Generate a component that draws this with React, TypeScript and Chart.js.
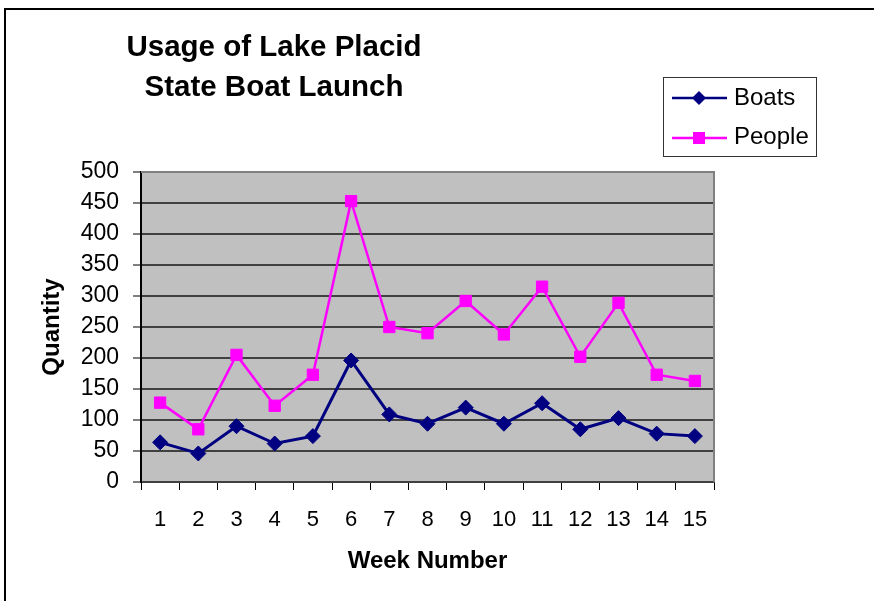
import React, { useEffect, useRef } from "react";
import { Chart, registerables } from "chart.js";

Chart.register(...registerables);

// Weekly usage counts for the boat launch
const weeks = ["1", "2", "3", "4", "5", "6", "7", "8", "9", "10", "11", "12", "13", "14", "15"];
const boats = [64, 46, 90, 62, 74, 196, 109, 94, 120, 94, 127, 85, 103, 78, 74];
const people = [128, 85, 205, 123, 173, 453, 250, 240, 292, 238, 315, 202, 289, 173, 163];

const titleLines = ["Usage of Lake Placid", "State Boat Launch"];
const seriesNames = ["Boats", "People"];
const yMin = 0;
const yMax = 500;
const yStep = 50;

const FONT = "'Liberation Sans', Arial, sans-serif";
const NAVY = "#000080";
const MAGENTA = "#ff00ff";

const W = 874;
const H = 601;

// Plot background, plot frame, heading and key
const decorations = {
  id: "decorations",
  beforeDraw(chart: any) {
    const { ctx, chartArea: a } = chart;
    ctx.save();
    ctx.fillStyle = "#ffffff";
    ctx.fillRect(0, 0, W, H);
    // outer frame
    ctx.fillStyle = "#000000";
    ctx.fillRect(4, 8, 2, H - 8);
    ctx.fillRect(4, 8, W - 4, 2);
    // plot area
    ctx.fillStyle = "#c0c0c0";
    ctx.fillRect(a.left, a.top, a.right - a.left, a.bottom - a.top);
    ctx.restore();
  },
  beforeDatasetsDraw(chart: any) {
    const { ctx, chartArea: a } = chart;
    ctx.save();
    ctx.strokeStyle = "#808080";
    ctx.lineWidth = 2;
    ctx.beginPath();
    ctx.moveTo(a.left, a.top);
    ctx.lineTo(a.right, a.top);
    ctx.lineTo(a.right, a.bottom);
    ctx.stroke();
    ctx.restore();
  },
  afterDraw(chart: any) {
    const { ctx } = chart;
    ctx.save();
    // heading
    ctx.fillStyle = "#000000";
    ctx.font = `bold 29.5px ${FONT}`;
    ctx.textAlign = "center";
    ctx.textBaseline = "alphabetic";
    ctx.fillText(titleLines[0], 274, 56);
    ctx.fillText(titleLines[1], 274, 96);

    // key
    ctx.fillStyle = "#ffffff";
    ctx.fillRect(663, 77, 154, 80);
    ctx.strokeStyle = "#333333";
    ctx.lineWidth = 1;
    ctx.strokeRect(663.5, 77.5, 153, 79);

    const rows = [
      { y: 98, color: NAVY, width: 2.5, shape: "diamond", label: seriesNames[0], base: 105 },
      { y: 138, color: MAGENTA, width: 2.5, shape: "square", label: seriesNames[1], base: 144 },
    ];
    for (const r of rows) {
      ctx.strokeStyle = r.color;
      ctx.lineWidth = r.width;
      ctx.beginPath();
      ctx.moveTo(672, r.y);
      ctx.lineTo(727, r.y);
      ctx.stroke();
      ctx.fillStyle = r.color;
      ctx.beginPath();
      const cx = 699;
      if (r.shape === "diamond") {
        ctx.moveTo(cx - 7, r.y);
        ctx.lineTo(cx, r.y - 7);
        ctx.lineTo(cx + 7, r.y);
        ctx.lineTo(cx, r.y + 7);
        ctx.closePath();
      } else {
        ctx.rect(cx - 6, r.y - 6, 12, 12);
      }
      ctx.fill();
      ctx.fillStyle = "#000000";
      ctx.font = `24px ${FONT}`;
      ctx.textAlign = "left";
      ctx.fillText(r.label, 734, r.base);
    }
    ctx.restore();
  },
};

export default function App() {
  const canvasRef = useRef<HTMLCanvasElement | null>(null);

  useEffect(() => {
    const canvas = canvasRef.current;
    if (!canvas) return;
    const chart = new Chart(canvas, {
      type: "line",
      data: {
        labels: weeks,
        datasets: [
          {
            label: seriesNames[0],
            data: boats,
            borderColor: NAVY,
            backgroundColor: NAVY,
            borderWidth: 3,
            pointStyle: "rectRot",
            pointRadius: 7.5,
            pointBorderWidth: 1,
            pointBackgroundColor: NAVY,
            pointBorderColor: NAVY,
            tension: 0,
          },
          {
            label: seriesNames[1],
            data: people,
            borderColor: MAGENTA,
            backgroundColor: MAGENTA,
            borderWidth: 2.5,
            pointStyle: "rect",
            pointRadius: 8,
            pointBorderWidth: 1,
            pointBackgroundColor: MAGENTA,
            pointBorderColor: MAGENTA,
            tension: 0,
          },
        ],
      },
      options: {
        responsive: false,
        animation: false,
        events: [],
        layout: { padding: { left: 0, top: 172, right: 160, bottom: 0 } },
        plugins: {
          legend: { display: false },
          title: { display: false },
          tooltip: { enabled: false },
        },
        scales: {
          x: {
            type: "category",
            offset: true,
            afterFit(scale: any) {
              scale.height = 119;
            },
            grid: {
              offset: true,
              drawOnChartArea: false,
              drawTicks: true,
              tickLength: 8,
              tickColor: "#000000",
              tickWidth: 1,
            },
            border: { display: true, color: "#404040", width: 2 },
            ticks: {
              color: "#000000",
              font: { family: FONT, size: 22 },
              padding: 17,
              maxRotation: 0,
              autoSkip: false,
            },
            title: {
              display: true,
              text: "Week Number",
              color: "#000000",
              font: { family: FONT, size: 24, weight: "bold" },
              padding: { top: 0, bottom: 25 },
            },
          },
          y: {
            min: yMin,
            max: yMax,
            afterFit(scale: any) {
              scale.width = 141;
            },
            grid: {
              color: "#404040",
              lineWidth: 2,
              drawTicks: true,
              tickLength: 8,
              tickColor: "#000000",
              tickWidth: 1,
            },
            border: { display: true, color: "#000000", width: 2 },
            ticks: {
              stepSize: yStep,
              color: "#000000",
              font: { family: FONT, size: 23 },
              padding: 14,
            },
            title: {
              display: true,
              text: "Quantity",
              color: "#000000",
              font: { family: FONT, size: 24, weight: "bold" },
              padding: { top: 38, bottom: 0 },
            },
          },
        },
      },
      plugins: [decorations],
    });
    return () => chart.destroy();
  }, []);

  return (
    <div style={{ position: "absolute", left: 0, top: 0, width: W, height: H, background: "#ffffff" }}>
      <canvas ref={canvasRef} width={W} height={H} style={{ display: "block", width: W, height: H }} />
    </div>
  );
}
